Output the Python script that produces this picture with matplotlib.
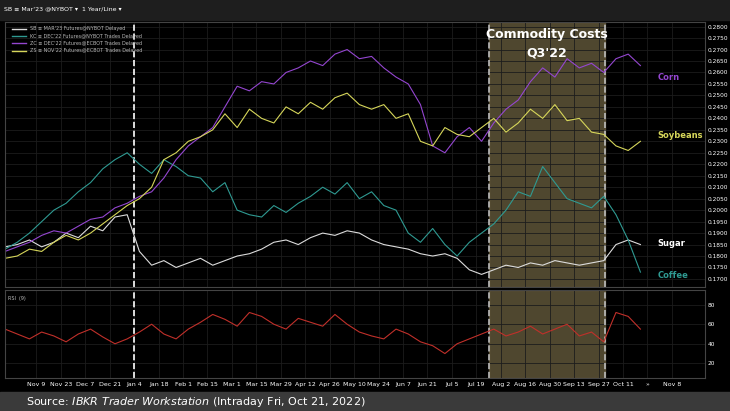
import matplotlib.pyplot as plt
import numpy as np

# days since Nov 9 2021, weekly samples
days = list(range(-18, 347, 7))

sugar = [.184, .185, .187, .184, .186, .190, .188, .193, .191, .197, .198, .182, .176, .178,
         .175, .177, .179, .176, .178, .180, .181, .183, .186, .187, .185, .188, .190, .189,
         .191, .190, .187, .185, .184, .183, .181, .180, .181, .179, .174, .172, .174, .176,
         .175, .177, .176, .178, .177, .176, .177, .178, .185, .187, .185]
coffee = [.183, .186, .190, .195, .200, .203, .208, .212, .218, .222, .225, .220, .216, .222,
          .219, .215, .214, .208, .212, .200, .198, .197, .202, .199, .203, .206, .210, .207,
          .212, .205, .208, .202, .200, .190, .186, .192, .185, .180, .186, .190, .194, .200,
          .208, .206, .219, .212, .205, .203, .201, .206, .198, .187, .173]
corn = [.182, .184, .186, .189, .191, .190, .193, .196, .197, .201, .203, .206, .208, .214,
        .222, .228, .232, .236, .245, .254, .252, .256, .255, .260, .262, .265, .263, .268,
        .270, .266, .267, .262, .258, .255, .246, .228, .225, .232, .236, .230, .238, .244,
        .248, .256, .262, .258, .266, .262, .264, .260, .266, .268, .263]
soybeans = [.179, .180, .183, .182, .186, .189, .187, .190, .194, .198, .202, .205, .210, .222,
            .225, .230, .232, .235, .242, .236, .244, .240, .238, .245, .242, .247, .244, .249,
            .251, .246, .244, .246, .240, .242, .230, .228, .236, .233, .232, .236, .240, .234,
            .238, .244, .240, .246, .239, .240, .234, .233, .228, .226, .230]
rsi = [55, 50, 45, 52, 48, 42, 50, 55, 47, 40, 45, 52, 60, 50, 45, 55, 62, 70, 65, 58,
       72, 68, 60, 55, 66, 62, 58, 70, 60, 52, 48, 45, 55, 50, 42, 38, 30, 40, 45, 50,
       55, 48, 52, 58, 50, 55, 60, 48, 52, 42, 72, 68, 55]

tick_days = list(range(0, 365, 14))
tick_labels = ["Nov 9", "Nov 23", "Dec 7", "Dec 21", "Jan 4", "Jan 18", "Feb 1", "Feb 15",
               "Mar 1", "Mar 15", "Mar 29", "Apr 12", "Apr 26", "May 10", "May 24", "Jun 7",
               "Jun 21", "Jul 5", "Jul 19", "Aug 2", "Aug 16", "Aug 30", "Sep 13", "Sep 27",
               "Oct 11", "\u00bb", "Nov 8"]

C_SUGAR, C_COFFEE, C_CORN, C_SOY, C_RSI = "#dcdcdc", "#2f9a92", "#9446d0", "#d6d65a", "#c0302a"
GRID = "#1c1c1c"
XL = (-18, 383)

fig = plt.figure(figsize=(7.3, 4.11), dpi=100, facecolor="black")
W, H = 730, 411

def box(l, t, r, b):
    return [l / W, 1 - b / H, (r - l) / W, (b - t) / H]

# top toolbar + bottom source band
fig.add_artist(plt.Rectangle((0, 1 - 20 / H), 1, 20 / H, transform=fig.transFigure, color="#1e1e1e"))
fig.add_artist(plt.Rectangle((0, 0), 1, 19 / H, transform=fig.transFigure, color="#3a3a3a"))
fig.text(0.005, 0.985, "SB \u2261 Mar'23 @NYBOT \u25be  1 Year/Line \u25be", color="white", fontsize=4.5, va="top")

ax = fig.add_axes(box(5, 22, 705, 287))
ax2 = fig.add_axes(box(5, 290, 705, 378), sharex=ax)
for a in (ax, ax2):
    a.set_facecolor("black")
    a.grid(True, color=GRID, linewidth=0.6)
    for s in a.spines.values():
        s.set_color("#444444")
    a.yaxis.tick_right()
    a.tick_params(colors="white", labelsize=4.2, length=0, pad=2)
    a.axvspan(259, 326, color="#6b6040", alpha=0.75, zorder=0)
    a.axvline(56, color="white", ls="--", lw=1.2)
    for xv in (259, 326):
        a.axvline(xv, color="#bbbbbb", ls="--", lw=1.2)

ax.plot(days, sugar, color=C_SUGAR, lw=0.8)
ax.plot(days, coffee, color=C_COFFEE, lw=0.8)
ax.plot(days, corn, color=C_CORN, lw=0.8)
ax.plot(days, soybeans, color=C_SOY, lw=0.8)
ax.set_xlim(*XL)
ax.set_ylim(0.1665, 0.2820)
ax.set_yticks(np.arange(0.17, 0.2801, 0.005))
ax.set_yticklabels([f"{v:.4f}" for v in np.arange(0.17, 0.2801, 0.005)])
plt.setp(ax.get_xticklabels(), visible=False)

for name, y, c in [("Corn", 0.2580, C_CORN), ("Soybeans", 0.2325, C_SOY),
                   ("Sugar", 0.1855, "white"), ("Coffee", 0.1715, C_COFFEE)]:
    ax.text(356, y, name, color=c, fontsize=6, fontweight="bold", va="center")
ax.text(292.5, 0.2725, "Commodity Costs\nQ3'22", color="white", fontsize=9, fontweight="bold",
        ha="center", va="center", linespacing=1.6)

legend_items = [("SB \u2261 MAR'23 Futures@NYBOT Delayed", C_SUGAR),
                ("KC \u2261 DEC'22 Futures@NYBOT Trades Delayed", C_COFFEE),
                ("ZC \u2261 DEC'22 Futures@ECBOT Trades Delayed", C_CORN),
                ("ZS \u2261 NOV'22 Futures@ECBOT Trades Delayed", C_SOY)]
for i, (txt, c) in enumerate(legend_items):
    yy = 0.975 - i * 0.028
    ax.plot([0.01, 0.03], [yy, yy], color=c, lw=1, transform=ax.transAxes)
    ax.text(0.035, yy, txt, color="#bbbbbb", fontsize=3.5, va="center", transform=ax.transAxes)

ax2.plot(days, rsi, color=C_RSI, lw=0.8)
ax2.set_ylim(5, 95)
ax2.set_yticks([20, 40, 60, 80])
ax2.set_xticks(tick_days)
ax2.set_xticklabels(tick_labels)
ax2.tick_params(axis="x", labelsize=4.5, pad=3)
ax2.text(0.005, 0.93, "RSI  (9)", color="#bbbbbb", fontsize=3.5, transform=ax2.transAxes, va="top")

fig.text(0.035, 9.5 / H, "Source: $\\it{IBKR\\ Trader\\ Workstation}$ (Intraday Fri, Oct 21, 2022)",
         color="white", fontsize=8, va="center")

fig.savefig("out.png", dpi=100, facecolor="black")
